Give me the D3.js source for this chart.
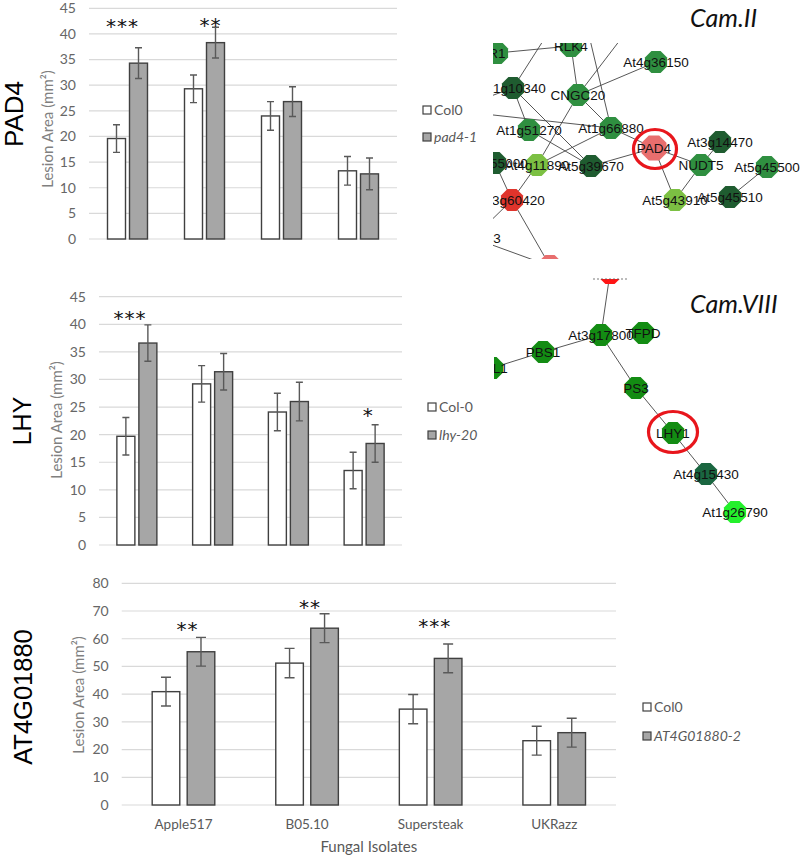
<html>
<head>
<script src="https://d3js.org/d3.v7.min.js"></script>
<style>
body { margin: 0; background: #fff; }
text { font-family: Lato, "Open Sans", sans-serif; }
</style>
</head>
<body>
<script>

// ---- bar chart data ----
var categories = ["Apple517", "B05.10", "Supersteak", "UKRazz"];

var pad4Col0    = [19.6, 29.3, 24.0, 13.3];
var pad4Col0Err = [2.7, 2.7, 2.8, 2.8];
var pad4Mut     = [34.3, 38.3, 26.8, 12.7];
var pad4MutErr  = [3.0, 3.0, 2.9, 3.1];

var lhyCol0     = [19.7, 29.2, 24.1, 13.5];
var lhyCol0Err  = [3.4, 3.3, 3.4, 3.3];
var lhyMut      = [36.6, 31.4, 26.0, 18.4];
var lhyMutErr   = [3.3, 3.3, 3.5, 3.4];

var atCol0      = [40.9, 51.2, 34.6, 23.2];
var atCol0Err   = [5.2, 5.3, 5.3, 5.2];
var atMut       = [55.3, 63.8, 52.9, 26.1];
var atMutErr    = [5.2, 5.2, 5.2, 5.2];

var pad4Ticks = [0, 5, 10, 15, 20, 25, 30, 35, 40, 45];
var lhyTicks  = [0, 5, 10, 15, 20, 25, 30, 35, 40, 45];
var atTicks   = [0, 10, 20, 30, 40, 50, 60, 70, 80];

// significance marks: group index, text, level (data units), small shift
var pad4Stars = [{g: 0, t: "***", v: 42.2, dx: -5}, {g: 1, t: "**", v: 42.5, dx: 6}];
var lhyStars  = [{g: 0, t: "***", v: 41.8, dx: -7}, {g: 3, t: "*", v: 24.3, dx: 4}];
var atStars   = [{g: 0, t: "**", v: 64.8, dx: 4}, {g: 1, t: "**", v: 72.9, dx: 3}, {g: 2, t: "***", v: 65.9, dx: 4}];

// ---- network data (layout units) ----
var net1Nodes = [
  {id: "R1", x: 17, y: 53, c: "mid"},
  {id: "RLK4", x: 91, y: 46, c: "mid"},
  {id: "At4g36150", x: 176, y: 62, c: "mid"},
  {id: "At1g10340", x: 33, y: 88, c: "dark"},
  {id: "CNGC20", x: 98, y: 95, c: "mid"},
  {id: "At1g51270", x: 49, y: 130, c: "mid"},
  {id: "At1g66880", x: 131, y: 128, c: "mid"},
  {id: "PAD4", x: 174, y: 148, c: "pink", big: true},
  {id: "At3g14470", x: 240, y: 142, c: "dark"},
  {id: "NUDT5", x: 221, y: 165, c: "mid"},
  {id: "At5g45500", x: 287, y: 167, c: "mid"},
  {id: "At1g55000", x: 15, y: 163, c: "dark"},
  {id: "At4g11890", x: 57, y: 165, c: "light"},
  {id: "At5g39670", x: 111, y: 166, c: "dark"},
  {id: "At3g60420", x: 32, y: 200, c: "red"},
  {id: "At5g43910", x: 195, y: 200, c: "light"},
  {id: "At5g45510", x: 250, y: 197, c: "dark"},
  {id: "At2g30000", x: 70, y: 266, c: "pink"},
  {id: "WRKY33", x: -7, y: 238, c: "mid"},
  {id: "", x: 84, y: 8, c: "none"},
  {id: " ", x: 103, y: 10, c: "none"},
  {id: "  ", x: 163, y: 10, c: "none"},
  {id: "   ", x: -14, y: 105, c: "none"},
  {id: "    ", x: -14, y: 112, c: "none"}
];
var net1Edges = [
  ["R1", "RLK4"], ["RLK4", "CNGC20"], ["CNGC20", "At4g36150"], ["CNGC20", "At1g66880"],
  ["CNGC20", "At4g11890"], ["At1g10340", "At1g51270"], ["At1g10340", "At5g39670"],
  ["At1g51270", "At5g39670"], ["At1g66880", "At4g11890"], ["At1g66880", "PAD4"],
  ["At5g39670", "PAD4"], ["At4g11890", "At3g60420"], ["At1g55000", "At3g60420"],
  ["At3g60420", "WRKY33"], ["At3g60420", "At2g30000"], ["WRKY33", "At2g30000"],
  ["PAD4", "NUDT5"], ["PAD4", "At5g43910"], ["NUDT5", "At3g14470"], ["NUDT5", "At5g43910"],
  ["At5g45510", "At5g45500"],
  ["", "At1g10340"], [" ", "At1g66880"], ["  ", "CNGC20"], ["   ", "At1g10340"], ["    ", "At1g66880"]
];

var net2Nodes = [
  {id: "MYB", x: 130, y: 273, c: "red2"},
  {id: "At3g17800", x: 121, y: 335, c: "g"},
  {id: "TFPD", x: 163, y: 333, c: "g"},
  {id: "PBS1", x: 63, y: 352, c: "g"},
  {id: "PLL1", x: 12, y: 368, c: "g"},
  {id: "PS3", x: 156, y: 388, c: "g"},
  {id: "LHY1", x: 193, y: 433, c: "g"},
  {id: "At4g15430", x: 226, y: 474, c: "dark2"},
  {id: "At1g26790", x: 255, y: 512, c: "bright"}
];
var net2Edges = [
  ["MYB", "At3g17800"], ["At3g17800", "PBS1"], ["PBS1", "PLL1"], ["At3g17800", "PS3"],
  ["PS3", "LHY1"], ["LHY1", "At4g15430"], ["At4g15430", "At1g26790"]
];

var nodeColor = {mid: "#2f8f40", dark: "#1f5c30", light: "#7cc043", pink: "#e86e6e",
                 red: "#e0342c", g: "#138c13", dark2: "#1a6640", bright: "#24f02c", red2: "#ff1414"};

var svg = d3.select("body").append("svg")
  .attr("width", 800).attr("height", 859);

function barPanel(p) {
  var g = svg.append("g");
  var y = d3.scaleLinear().domain([0, p.yMax]).range([p.y0, p.yTop]);
  var x = d3.scaleBand().domain(categories).range([p.x0, p.x1]);

  g.selectAll(".grid").data(p.ticks).enter().append("line")
    .attr("x1", p.x0).attr("x2", p.x1)
    .attr("y1", function(d) { return y(d); }).attr("y2", function(d) { return y(d); })
    .attr("stroke", "#d9d9d9").attr("stroke-width", 1.2);

  g.selectAll(".tick").data(p.ticks).enter().append("text")
    .attr("x", p.x0 - 13).attr("y", function(d) { return y(d); })
    .attr("dy", "0.35em").attr("text-anchor", "end")
    .attr("font-size", 14).attr("fill", "#666")
    .text(function(d) { return d; });

  var series = [
    {vals: p.col0, errs: p.col0Err, fill: "#ffffff", off: -p.gap / 2 - p.barW},
    {vals: p.mut, errs: p.mutErr, fill: "#a6a6a6", off: p.gap / 2}
  ];
  series.forEach(function(s) {
    var cx = function(d, i) { return x(categories[i]) + x.bandwidth() / 2 + s.off; };
    g.selectAll(null).data(s.vals).enter().append("rect")
      .attr("x", cx).attr("width", p.barW)
      .attr("y", function(d) { return y(d); })
      .attr("height", function(d) { return y(0) - y(d); })
      .attr("fill", s.fill).attr("stroke", "#404040").attr("stroke-width", 1.4);
    var mid = function(d, i) { return cx(d, i) + p.barW / 2; };
    g.selectAll(null).data(s.vals).enter().append("path")
      .attr("d", function(d, i) {
        var m = mid(d, i), t = y(d + s.errs[i]), b = y(d - s.errs[i]), c = p.capW / 2;
        return "M" + (m - c) + "," + t + "H" + (m + c) + "M" + m + "," + t + "V" + b +
               "M" + (m - c) + "," + b + "H" + (m + c);
      })
      .attr("fill", "none").attr("stroke", "#595959").attr("stroke-width", 1.4);
  });

  g.selectAll(".star").data(p.stars).enter().append("text")
    .attr("x", function(d) { return x(categories[d.g]) + x.bandwidth() / 2 + d.dx; })
    .attr("y", function(d) { return y(d.v) + 10.8; })
    .attr("text-anchor", "middle")
    .style("font-family", "'DejaVu Sans'").attr("font-size", 20)
    .attr("letter-spacing", 1).attr("fill", "#111")
    .text(function(d) { return d.t; });

  g.append("text")
    .attr("transform", "translate(" + p.ylabX + "," + p.ylabY + ") rotate(-90)")
    .attr("text-anchor", "middle").attr("dy", "0.35em")
    .attr("font-size", 15).attr("fill", "#808080")
    .text("Lesion Area (mm²)");

  g.append("text")
    .attr("transform", "translate(" + p.geneX + "," + p.geneY + ") rotate(-90)")
    .attr("text-anchor", "middle").attr("dy", "0.35em")
    .style("font-family", "'Liberation Sans', Arial")
    .attr("font-size", p.geneSize).attr("fill", "#000")
    .text(p.gene);

  var leg = g.append("g");
  p.legend.forEach(function(l, i) {
    leg.append("rect").attr("x", p.legX).attr("y", p.legY[i]).attr("width", 8).attr("height", 8)
      .attr("fill", i === 0 ? "#fff" : "#a6a6a6").attr("stroke", "#404040").attr("stroke-width", 1.2);
    leg.append("text").attr("x", p.legX + 11).attr("y", p.legY[i] + 8.5)
      .attr("font-size", 14).attr("fill", "#595959")
      .attr("font-style", i === 0 ? "normal" : "italic")
      .text(l);
  });

  if (p.showX) {
    g.selectAll(".xl").data(categories).enter().append("text")
      .attr("x", function(d) { return x(d) + x.bandwidth() / 2; })
      .attr("y", p.y0 + 24).attr("text-anchor", "middle")
      .attr("font-size", 13.5).attr("fill", "#595959")
      .text(function(d) { return d; });
    g.append("text").attr("x", (p.x0 + p.x1) / 2).attr("y", p.y0 + 47)
      .attr("text-anchor", "middle").attr("font-size", 15).attr("fill", "#595959")
      .text("Fungal Isolates");
  }
}

function octagon(r) {
  var pts = d3.range(8).map(function(k) {
    var a = (22.5 + 45 * k) * Math.PI / 180;
    return [r * Math.cos(a), r * Math.sin(a)];
  });
  return "M" + pts.join("L") + "Z";
}

function network(n) {
  var id = "clip" + n.key;
  svg.append("clipPath").attr("id", id).append("rect")
    .attr("x", n.clip[0]).attr("y", n.clip[1]).attr("width", n.clip[2]).attr("height", n.clip[3]);
  var g = svg.append("g").attr("clip-path", "url(#" + id + ")");
  var x = d3.scaleLinear().domain([0, 320]).range([480, 800]);
  var y = d3.scaleLinear().domain([0, 260]).range([0, 260]);
  var byId = {};
  n.nodes.forEach(function(d) { byId[d.id] = d; });

  g.selectAll("line").data(n.edges).enter().append("line")
    .attr("x1", function(e) { return x(byId[e[0]].x); })
    .attr("y1", function(e) { return y(byId[e[0]].y); })
    .attr("x2", function(e) { return x(byId[e[1]].x); })
    .attr("y2", function(e) { return y(byId[e[1]].y); })
    .attr("stroke", "#444").attr("stroke-width", 0.9);

  var shown = n.nodes.filter(function(d) { return d.c !== "none"; });
  g.selectAll("path.node").data(shown).enter().append("path")
    .attr("class", "node")
    .attr("transform", function(d) { return "translate(" + x(d.x) + "," + y(d.y) + ")"; })
    .attr("d", function(d) { return octagon(d.big ? 13.5 : 12); })
    .attr("fill", function(d) { return nodeColor[d.c]; });

  g.selectAll("text.lab").data(shown).enter().append("text")
    .attr("class", "lab")
    .attr("x", function(d) { return x(d.x); })
    .attr("y", function(d) { return y(d.y); })
    .attr("dy", "0.36em").attr("text-anchor", "middle")
    .style("font-family", "'Liberation Sans', Arial")
    .attr("font-size", 13.5).attr("fill", "#111")
    .text(function(d) { return d.id; });

  var hl = byId[n.highlight];
  g.append("ellipse")
    .attr("cx", x(hl.x) + n.hlShift[0]).attr("cy", y(hl.y) + n.hlShift[1])
    .attr("rx", n.hlR[0]).attr("ry", n.hlR[1])
    .attr("fill", "none").attr("stroke", "#e8161c").attr("stroke-width", 3.2);

  if (n.dash) {
    svg.append("line").attr("x1", n.dash[0]).attr("x2", n.dash[1])
      .attr("y1", n.clip[1]).attr("y2", n.clip[1])
      .attr("stroke", "#555").attr("stroke-width", 0.8).attr("stroke-dasharray", "2,2");
  }

  svg.append("text").attr("x", n.title[0]).attr("y", n.title[1])
    .attr("font-size", 25).attr("font-style", "italic").attr("fill", "#111")
    .text(n.titleText);
}

barPanel({x0: 89, x1: 397, yTop: 8.3, y0: 239, yMax: 45, ticks: pad4Ticks,
  col0: pad4Col0, col0Err: pad4Col0Err, mut: pad4Mut, mutErr: pad4MutErr,
  barW: 18, gap: 4, capW: 7, stars: pad4Stars,
  gene: "PAD4", geneX: 14, geneY: 114, geneSize: 26, ylabX: 48, ylabY: 129,
  legend: ["Col0", "pad4-1"], legX: 423, legY: [106, 133], showX: false});

barPanel({x0: 99, x1: 402, yTop: 296.7, y0: 545, yMax: 45, ticks: lhyTicks,
  col0: lhyCol0, col0Err: lhyCol0Err, mut: lhyMut, mutErr: lhyMutErr,
  barW: 18, gap: 4, capW: 7, stars: lhyStars,
  gene: "LHY", geneX: 22, geneY: 421, geneSize: 25, ylabX: 57, ylabY: 420,
  legend: ["Col-0", "lhy-20"], legX: 428, legY: [403, 431], showX: false});

barPanel({x0: 121.7, x1: 616, yTop: 583.3, y0: 805, yMax: 80, ticks: atTicks,
  col0: atCol0, col0Err: atCol0Err, mut: atMut, mutErr: atMutErr,
  barW: 27.6, gap: 7.4, capW: 10, stars: atStars,
  gene: "AT4G01880", geneX: 23, geneY: 697, geneSize: 25.5, ylabX: 79, ylabY: 695,
  legend: ["Col0", "AT4G01880-2"], legX: 643, legY: [703, 732], showX: true});

network({key: 1, nodes: net1Nodes, edges: net1Edges, clip: [493, 43, 307, 216],
  highlight: "PAD4", hlShift: [1, 1], hlR: [21.5, 19.5],
  title: [690, 27], titleText: "Cam.II"});

network({key: 2, nodes: net2Nodes, edges: net2Edges, clip: [494, 279, 306, 300],
  highlight: "LHY1", hlShift: [0, -1], hlR: [24.5, 20.5], dash: [593, 628],
  title: [690, 313], titleText: "Cam.VIII"});

</script>
</body>
</html>
